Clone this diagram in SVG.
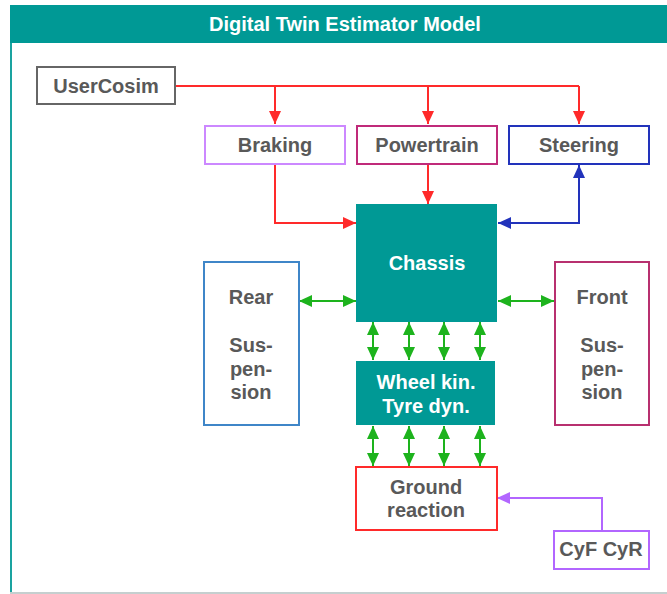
<svg xmlns="http://www.w3.org/2000/svg" width="667" height="594" viewBox="0 0 667 594">
<defs>
<style>
text{font-family:"Liberation Sans",Arial,sans-serif;font-weight:bold;font-size:20px;text-anchor:middle;dominant-baseline:central}
.lbl{fill:#595959}
.wt{fill:#ffffff}
.box{fill:#ffffff;stroke-width:2}
.teal{fill:#009995}
.red{stroke:#ff2a2a;stroke-width:2;fill:none}
.blue{stroke:#2233bb;stroke-width:2;fill:none}
.green{stroke:#1db31d;stroke-width:2;fill:none}
.purple{stroke:#b266ff;stroke-width:2;fill:none}
</style>
<marker id="aR" markerUnits="userSpaceOnUse" markerWidth="13" markerHeight="13" viewBox="0 0 13 13" refX="13" refY="6.5" orient="auto-start-reverse"><path d="M0,0.5 L13,6.5 L0,12.5 z" fill="#ff2a2a"/></marker>
<marker id="aB" markerUnits="userSpaceOnUse" markerWidth="13" markerHeight="13" viewBox="0 0 13 13" refX="13" refY="6.5" orient="auto-start-reverse"><path d="M0,0.5 L13,6.5 L0,12.5 z" fill="#2233bb"/></marker>
<marker id="aG" markerUnits="userSpaceOnUse" markerWidth="13" markerHeight="13" viewBox="0 0 13 13" refX="13" refY="6.5" orient="auto-start-reverse"><path d="M0,0.5 L13,6.5 L0,12.5 z" fill="#1db31d"/></marker>
<marker id="aP" markerUnits="userSpaceOnUse" markerWidth="13" markerHeight="13" viewBox="0 0 13 13" refX="13" refY="6.5" orient="auto-start-reverse"><path d="M0,0.5 L13,6.5 L0,12.5 z" fill="#b266ff"/></marker>
</defs>
<g id="frame">
<line x1="11" y1="5" x2="11" y2="593" stroke="#1aa3a0" stroke-width="2"/>
<line x1="10" y1="593" x2="667" y2="593" stroke="#c5cfcf" stroke-width="2"/>
<rect x="10" y="5" width="657" height="38" fill="#009995"/>
<text class="wt" x="345" y="24">Digital Twin Estimator Model</text>
</g>
<g id="connectors">
<path class="red" d="M175,86 H579"/>
<path class="red" d="M275,86 V124" marker-end="url(#aR)"/>
<path class="red" d="M428,86 V124" marker-end="url(#aR)"/>
<path class="red" d="M579,86 V124" marker-end="url(#aR)"/>
<path class="red" d="M275,165 V223 H356" marker-end="url(#aR)"/>
<path class="red" d="M428,165 V204" marker-end="url(#aR)"/>
<path class="blue" d="M498,223 H579 V165" marker-start="url(#aB)" marker-end="url(#aB)"/>
<path class="green" d="M299,301 H356" marker-start="url(#aG)" marker-end="url(#aG)"/>
<path class="green" d="M498,301 H554" marker-start="url(#aG)" marker-end="url(#aG)"/>
<path class="green" d="M373,322 V360" marker-start="url(#aG)" marker-end="url(#aG)"/>
<path class="green" d="M409,322 V360" marker-start="url(#aG)" marker-end="url(#aG)"/>
<path class="green" d="M444,322 V360" marker-start="url(#aG)" marker-end="url(#aG)"/>
<path class="green" d="M480,322 V360" marker-start="url(#aG)" marker-end="url(#aG)"/>
<path class="green" d="M373,426 V466" marker-start="url(#aG)" marker-end="url(#aG)"/>
<path class="green" d="M409,426 V466" marker-start="url(#aG)" marker-end="url(#aG)"/>
<path class="green" d="M444,426 V466" marker-start="url(#aG)" marker-end="url(#aG)"/>
<path class="green" d="M480,426 V466" marker-start="url(#aG)" marker-end="url(#aG)"/>
<path class="purple" d="M602,530 V498 H497" marker-end="url(#aP)"/>
</g>
<g id="usercosim">
<rect class="box" x="37" y="67" width="138" height="37" stroke="#666666"/>
<text class="lbl" x="106" y="86">UserCosim</text>
</g>
<g id="braking">
<rect class="box" x="205" y="126" width="140" height="38" stroke="#cc88ff"/>
<text class="lbl" x="275" y="145">Braking</text>
</g>
<g id="powertrain">
<rect class="box" x="357" y="126" width="140" height="38" stroke="#c02a7a"/>
<text class="lbl" x="427" y="145">Powertrain</text>
</g>
<g id="steering">
<rect class="box" x="509" y="126" width="140" height="38" stroke="#2233bb"/>
<text class="lbl" x="579" y="145">Steering</text>
</g>
<g id="chassis">
<rect class="teal" x="356" y="204" width="141" height="118"/>
<text class="wt" x="427" y="263">Chassis</text>
</g>
<g id="rear">
<rect class="box" x="204" y="262" width="95" height="163" stroke="#3f86c8"/>
<text class="lbl" x="251" y="297">Rear</text>
<text class="lbl" x="251" y="345">Sus-</text>
<text class="lbl" x="251" y="369">pen-</text>
<text class="lbl" x="251" y="392">sion</text>
</g>
<g id="front">
<rect class="box" x="555" y="262" width="94" height="163" stroke="#b8306f"/>
<text class="lbl" x="602" y="297">Front</text>
<text class="lbl" x="602" y="345">Sus-</text>
<text class="lbl" x="602" y="369">pen-</text>
<text class="lbl" x="602" y="392">sion</text>
</g>
<g id="wheel">
<rect class="teal" x="356" y="361" width="139" height="64"/>
<text class="wt" x="426" y="382">Wheel kin.</text>
<text class="wt" x="426" y="406">Tyre dyn.</text>
</g>
<g id="ground">
<rect class="box" x="356" y="467" width="141" height="63" stroke="#ff2a2a"/>
<text class="lbl" x="426" y="487">Ground</text>
<text class="lbl" x="426" y="510">reaction</text>
</g>
<g id="cyfcyr">
<rect class="box" x="554" y="531" width="95" height="38" stroke="#b266ff"/>
<text class="lbl" x="601" y="549">CyF CyR</text>
</g>
</svg>
